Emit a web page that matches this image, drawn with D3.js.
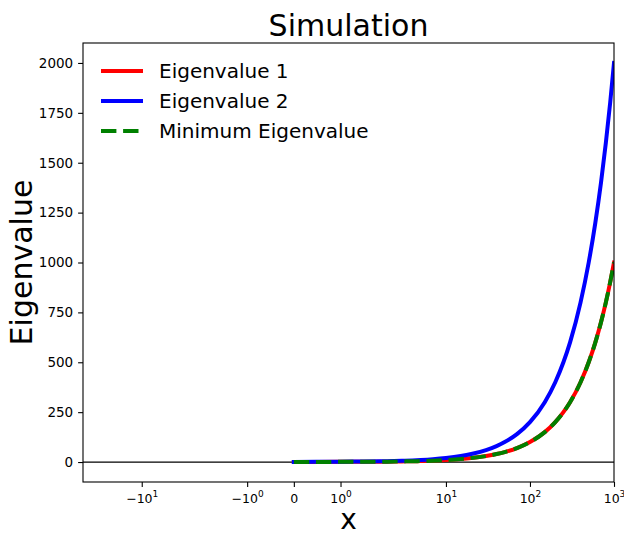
<!DOCTYPE html>
<html>
<head>
<meta charset="utf-8">
<script src="https://cdn.jsdelivr.net/npm/d3@7"></script>
<style>
    body { margin: 0; background: #fff; }
    text { font-family: "DejaVu Sans", sans-serif; }
</style>
</head>
<body>
<script>
// values
const xValues = [0, 0.5, 1, 1.5, 2, 3, 4, 5, 7, 10, 15, 20, 30, 40, 50, 70, 100, 150, 200, 250, 300, 400, 500, 600, 700, 800, 900, 1000];
const eigen1 = [0, 0.5, 1, 1.5, 2, 3, 4, 5, 7, 10, 15, 20, 30, 40, 50, 70, 100, 150, 200, 250, 300, 400, 500, 600, 700, 800, 900, 1000];
const eigen2 = [0, 1, 2, 3, 4, 6, 8, 10, 14, 20, 30, 40, 60, 80, 100, 140, 200, 300, 400, 500, 600, 800, 1000, 1200, 1400, 1600, 1800, 2000];
const minEigen = [0, 0.5, 1, 1.5, 2, 3, 4, 5, 7, 10, 15, 20, 30, 40, 50, 70, 100, 150, 200, 250, 300, 400, 500, 600, 700, 800, 900, 1000];
const seriesNames = ["Eigenvalue 1", "Eigenvalue 2", "Minimum Eigenvalue"];
const seriesColors = ["#ff0000", "#0000ff", "#008000"];
const xTickValues = [-10, -1, 0, 1, 10, 100, 1000];
const xTickBases = ["\u221210", "\u221210", "0", "10", "10", "10", "10"];
const xTickExps = ["1", "0", "", "0", "1", "2", "3"];
const yTickValues = [0, 250, 500, 750, 1000, 1250, 1500, 1750, 2000];

window.onload = initPage;

function initPage() {
    const svgInfo = {
        SVG_WIDTH: 624,
        SVG_HEIGHT: 536,
        LEFT: 83,
        RIGHT: 614,
        TOP: 43,
        BOTTOM: 482,
    };
    const svg = d3.select("body").append("svg")
        .attr("width", svgInfo.SVG_WIDTH)
        .attr("height", svgInfo.SVG_HEIGHT);
    drawChart(svg, svgInfo);
}

// matplotlib style symlog, linthresh 2, linscale 1
function symlog(v) {
    const c = 2, ls = 1 / (1 - 1 / 10);
    const a = Math.abs(v);
    return a <= c ? v * ls : Math.sign(v) * c * (ls + Math.log10(a / c));
}

function drawChart(svg, info) {
    const xT = d3.scaleLinear()
        .domain([symlog(-50), symlog(1000)])
        .range([info.LEFT, info.RIGHT]);
    const x = (v) => xT(symlog(v));
    const y = d3.scaleLinear()
        .domain([-100, 2100])
        .range([info.BOTTOM, info.TOP]);

    svg.append("clipPath").attr("id", "plotClip")
        .append("rect")
        .attr("x", info.LEFT).attr("y", info.TOP)
        .attr("width", info.RIGHT - info.LEFT)
        .attr("height", info.BOTTOM - info.TOP);

    // zero line
    svg.append("line")
        .attr("x1", info.LEFT).attr("x2", info.RIGHT)
        .attr("y1", y(0)).attr("y2", y(0))
        .attr("stroke", "#000").attr("stroke-width", 1.3);

    const lineGen = (vals) => d3.line()
        .x((d, i) => x(xValues[i]))
        .y((d) => y(d))
        .curve(d3.curveMonotoneX)(vals);

    const plot = svg.append("g").attr("clip-path", "url(#plotClip)");
    const seriesData = [eigen1, eigen2, minEigen];
    seriesData.forEach((vals, i) => {
        plot.append("path")
            .attr("d", lineGen(vals))
            .attr("fill", "none")
            .attr("stroke", seriesColors[i])
            .attr("stroke-width", 4)
            .attr("stroke-linecap", i === 2 ? "butt" : "square")
            .attr("stroke-dasharray", i === 2 ? "15.4,6.7" : null);
    });

    // x axis
    const xAxis = svg.append("g")
        .attr("transform", `translate(0,${info.BOTTOM})`)
        .call(d3.axisBottom(xT)
            .tickValues(xTickValues.map(symlog))
            .tickSize(4.9)
            .tickFormat(""));
    xAxis.select(".domain").remove();
    xAxis.selectAll(".tick line").attr("stroke", "#000").attr("stroke-width", 1.1);
    xAxis.selectAll(".tick").each(function (d, i) {
        const t = d3.select(this).append("text")
            .attr("y", 20.5)
            .attr("fill", "#000")
            .attr("font-size", 12.5)
            .attr("text-anchor", "middle");
        t.append("tspan").text(xTickBases[i]);
        if (xTickExps[i]) {
            t.append("tspan")
                .attr("font-size", 9)
                .attr("dy", -6)
                .text(xTickExps[i]);
        }
    });

    // y axis
    const yAxis = svg.append("g")
        .attr("transform", `translate(${info.LEFT},0)`)
        .call(d3.axisLeft(y)
            .tickValues(yTickValues)
            .tickFormat(d3.format("d"))
            .tickSize(4.9)
            .tickPadding(4.9));
    yAxis.select(".domain").remove();
    yAxis.selectAll(".tick line").attr("stroke", "#000").attr("stroke-width", 1.1);
    yAxis.selectAll(".tick text")
        .attr("fill", "#000")
        .attr("font-size", 13.5)
        .attr("font-family", "DejaVu Sans");

    // frame
    svg.append("rect")
        .attr("x", info.LEFT).attr("y", info.TOP)
        .attr("width", info.RIGHT - info.LEFT)
        .attr("height", info.BOTTOM - info.TOP)
        .attr("fill", "none")
        .attr("stroke", "#000")
        .attr("stroke-width", 1.1);

    // titles
    svg.append("text")
        .attr("x", (info.LEFT + info.RIGHT) / 2).attr("y", 36)
        .attr("text-anchor", "middle")
        .attr("font-size", 30)
        .text("Simulation");
    svg.append("text")
        .attr("x", (info.LEFT + info.RIGHT) / 2).attr("y", 529)
        .attr("text-anchor", "middle")
        .attr("font-size", 28)
        .text("x");
    svg.append("text")
        .attr("transform", `translate(32,${(info.TOP + info.BOTTOM) / 2}) rotate(-90)`)
        .attr("text-anchor", "middle")
        .attr("font-size", 30)
        .text("Eigenvalue");

    // legend
    const legend = svg.append("g");
    seriesNames.forEach((name, i) => {
        const ly = 71 + i * 30;
        legend.append("line")
            .attr("x1", 101).attr("x2", 143)
            .attr("y1", ly).attr("y2", ly)
            .attr("stroke", seriesColors[i])
            .attr("stroke-width", 4)
            .attr("stroke-dasharray", i === 2 ? "15.4,6.7" : null);
        legend.append("text")
            .attr("x", 159).attr("y", ly + 7)
            .attr("font-size", 20)
            .text(name);
    });
}
</script>
</body>
</html>
